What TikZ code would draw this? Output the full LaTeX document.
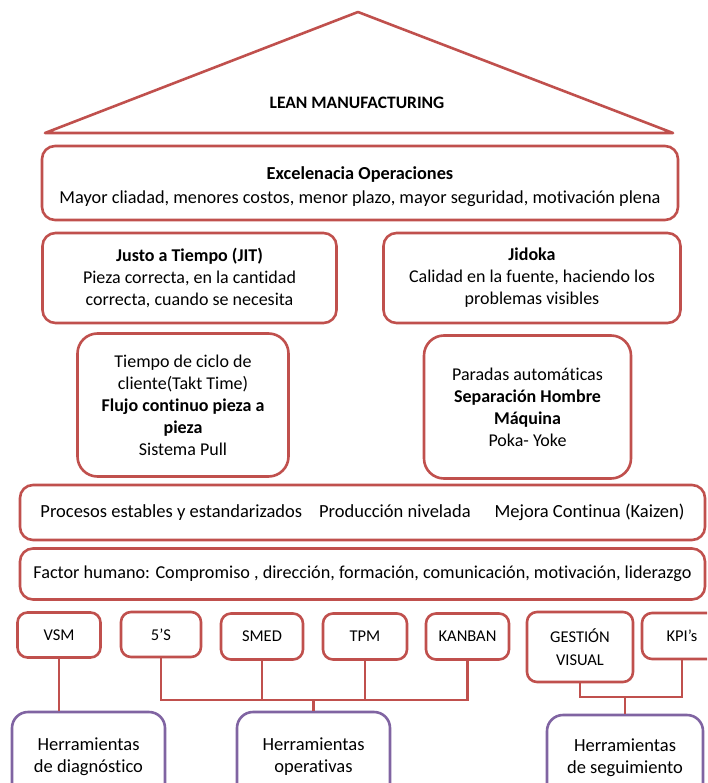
\documentclass[tikz,border=0pt]{standalone}
\usepackage{fontspec}
\setmainfont{Carlito}[Ligatures={TeX,NoCommon}]
\definecolor{boxred}{RGB}{192,80,77}
\definecolor{boxpurple}{RGB}{128,100,162}
\begin{document}
\begin{tikzpicture}[x=1pt,y=-1pt,
  box/.style={draw=boxred, line width=2.6pt, rounded corners=13pt, fill=white,
    align=center, inner sep=0pt, font=\fontsize{18}{22}\selectfont},
  pillar/.style={box, rounded corners=20pt},
  tool/.style={box, rounded corners=10pt, font=\fontsize{16.5}{23}\selectfont},
  group/.style={box, draw=boxpurple, rounded corners=16pt, font=\fontsize{18.5}{22}\selectfont},
  link/.style={draw=boxred, line width=2.6pt},
  roof/.style={draw=boxred, line width=2.6pt, line join=round}]
\useasboundingbox (0,0) rectangle (707,783);
\clip (0,0) rectangle (707,783);

% roof
\coordinate (apex) at (358,12);
\coordinate (eaveL) at (45,133);
\coordinate (eaveR) at (673,133);
\draw[roof] (eaveL) -- (apex) -- (eaveR) -- cycle;
\node[font=\fontsize{17.5}{20}\selectfont\bfseries] (lean) at (357,103) {LEAN MANUFACTURING};

% goals
\node[box, minimum width=636, minimum height=74, font=\fontsize{18.3}{22}\selectfont] (exc) at (360,183)
  {\rule{0pt}{21pt}\textbf{Excelenacia Operaciones}\\[2pt]Mayor cliadad, menores costos, menor plazo, mayor seguridad, motivación plena};

% the two pillars
\node[box, minimum width=294, minimum height=90] (jit) at (189.5,278)
  {\textbf{Justo a Tiempo (JIT)}\\Pieza correcta, en la cantidad\\correcta, cuando se necesita};
\node[box, minimum width=297, minimum height=90] (jidoka) at (532,278)
  {\textbf{Jidoka}\\Calidad en la fuente, haciendo los\\problemas visibles};

\node[pillar, minimum width=211, minimum height=143] (takt) at (183,405)
  {Tiempo de ciclo de\\cliente(Takt Time)\\\textbf{Flujo continuo pieza a}\\\textbf{pieza}\\Sistema Pull};
\node[pillar, minimum width=207, minimum height=143] (paradas) at (527.5,407)
  {Paradas automáticas\\\textbf{Separación Hombre}\\\textbf{Máquina}\\Poka- Yoke};

% foundations
\node[box, minimum width=685, minimum height=55, font=\fontsize{18.5}{22}\selectfont] (procesos) at (362.5,512.5)
  {Procesos estables y estandarizados\hspace{17pt}Producción nivelada\hspace{24pt}Mejora Continua (Kaizen)};
\node[box, minimum width=685, minimum height=51, font=\fontsize{18.2}{22}\selectfont] (factor) at (362.5,574)
  {Factor humano: Compromiso , dirección, formación, comunicación, motivación, liderazgo};

% tools
\node[tool, minimum width=83, minimum height=45] (vsm) at (59,635) {VSM};
\node[tool, minimum width=80, minimum height=45] (cinco) at (161,634.5) {5'S};
\node[tool, minimum width=82, minimum height=46] (smed) at (262,636.5) {SMED};
\node[tool, minimum width=84, minimum height=46] (tpm) at (365,636.5) {TPM};
\node[tool, minimum width=83, minimum height=46] (kanban) at (467.5,636.5) {KANBAN};
\node[tool, minimum width=106, minimum height=70] (gestion) at (580,647) {GESTIÓN\\VISUAL};
\node[tool, minimum width=80, minimum height=46] (kpi) at (682,636) {KPI's};

% tool groups
\node[group, minimum width=153, minimum height=90] (diag) at (88.5,757)
  {Herramientas\\de diagnóstico};
\node[group, minimum width=153, minimum height=90] (oper) at (313.5,757)
  {Herramientas\\operativas};
\node[group, minimum width=156, minimum height=86] (segui) at (625,758)
  {Herramientas\\de seguimiento};

% connectors
\draw[link] (vsm.south) -- (vsm.south |- diag.north);

\coordinate (opbus) at (313.5,700);
\draw[link] (cinco.south) |- (kanban.south |- opbus) -- (kanban.south);
\draw[link] (smed.south) -- (smed.south |- opbus);
\draw[link] (tpm.south) -- (tpm.south |- opbus);
\draw[link] (opbus) -- (oper.north);

\coordinate (sgbus) at (625,697);
\draw[link] (gestion.south) |- (kpi.south |- sgbus) -- (kpi.south);
\draw[link] (sgbus) -- (segui.north);
\end{tikzpicture}
\end{document}
